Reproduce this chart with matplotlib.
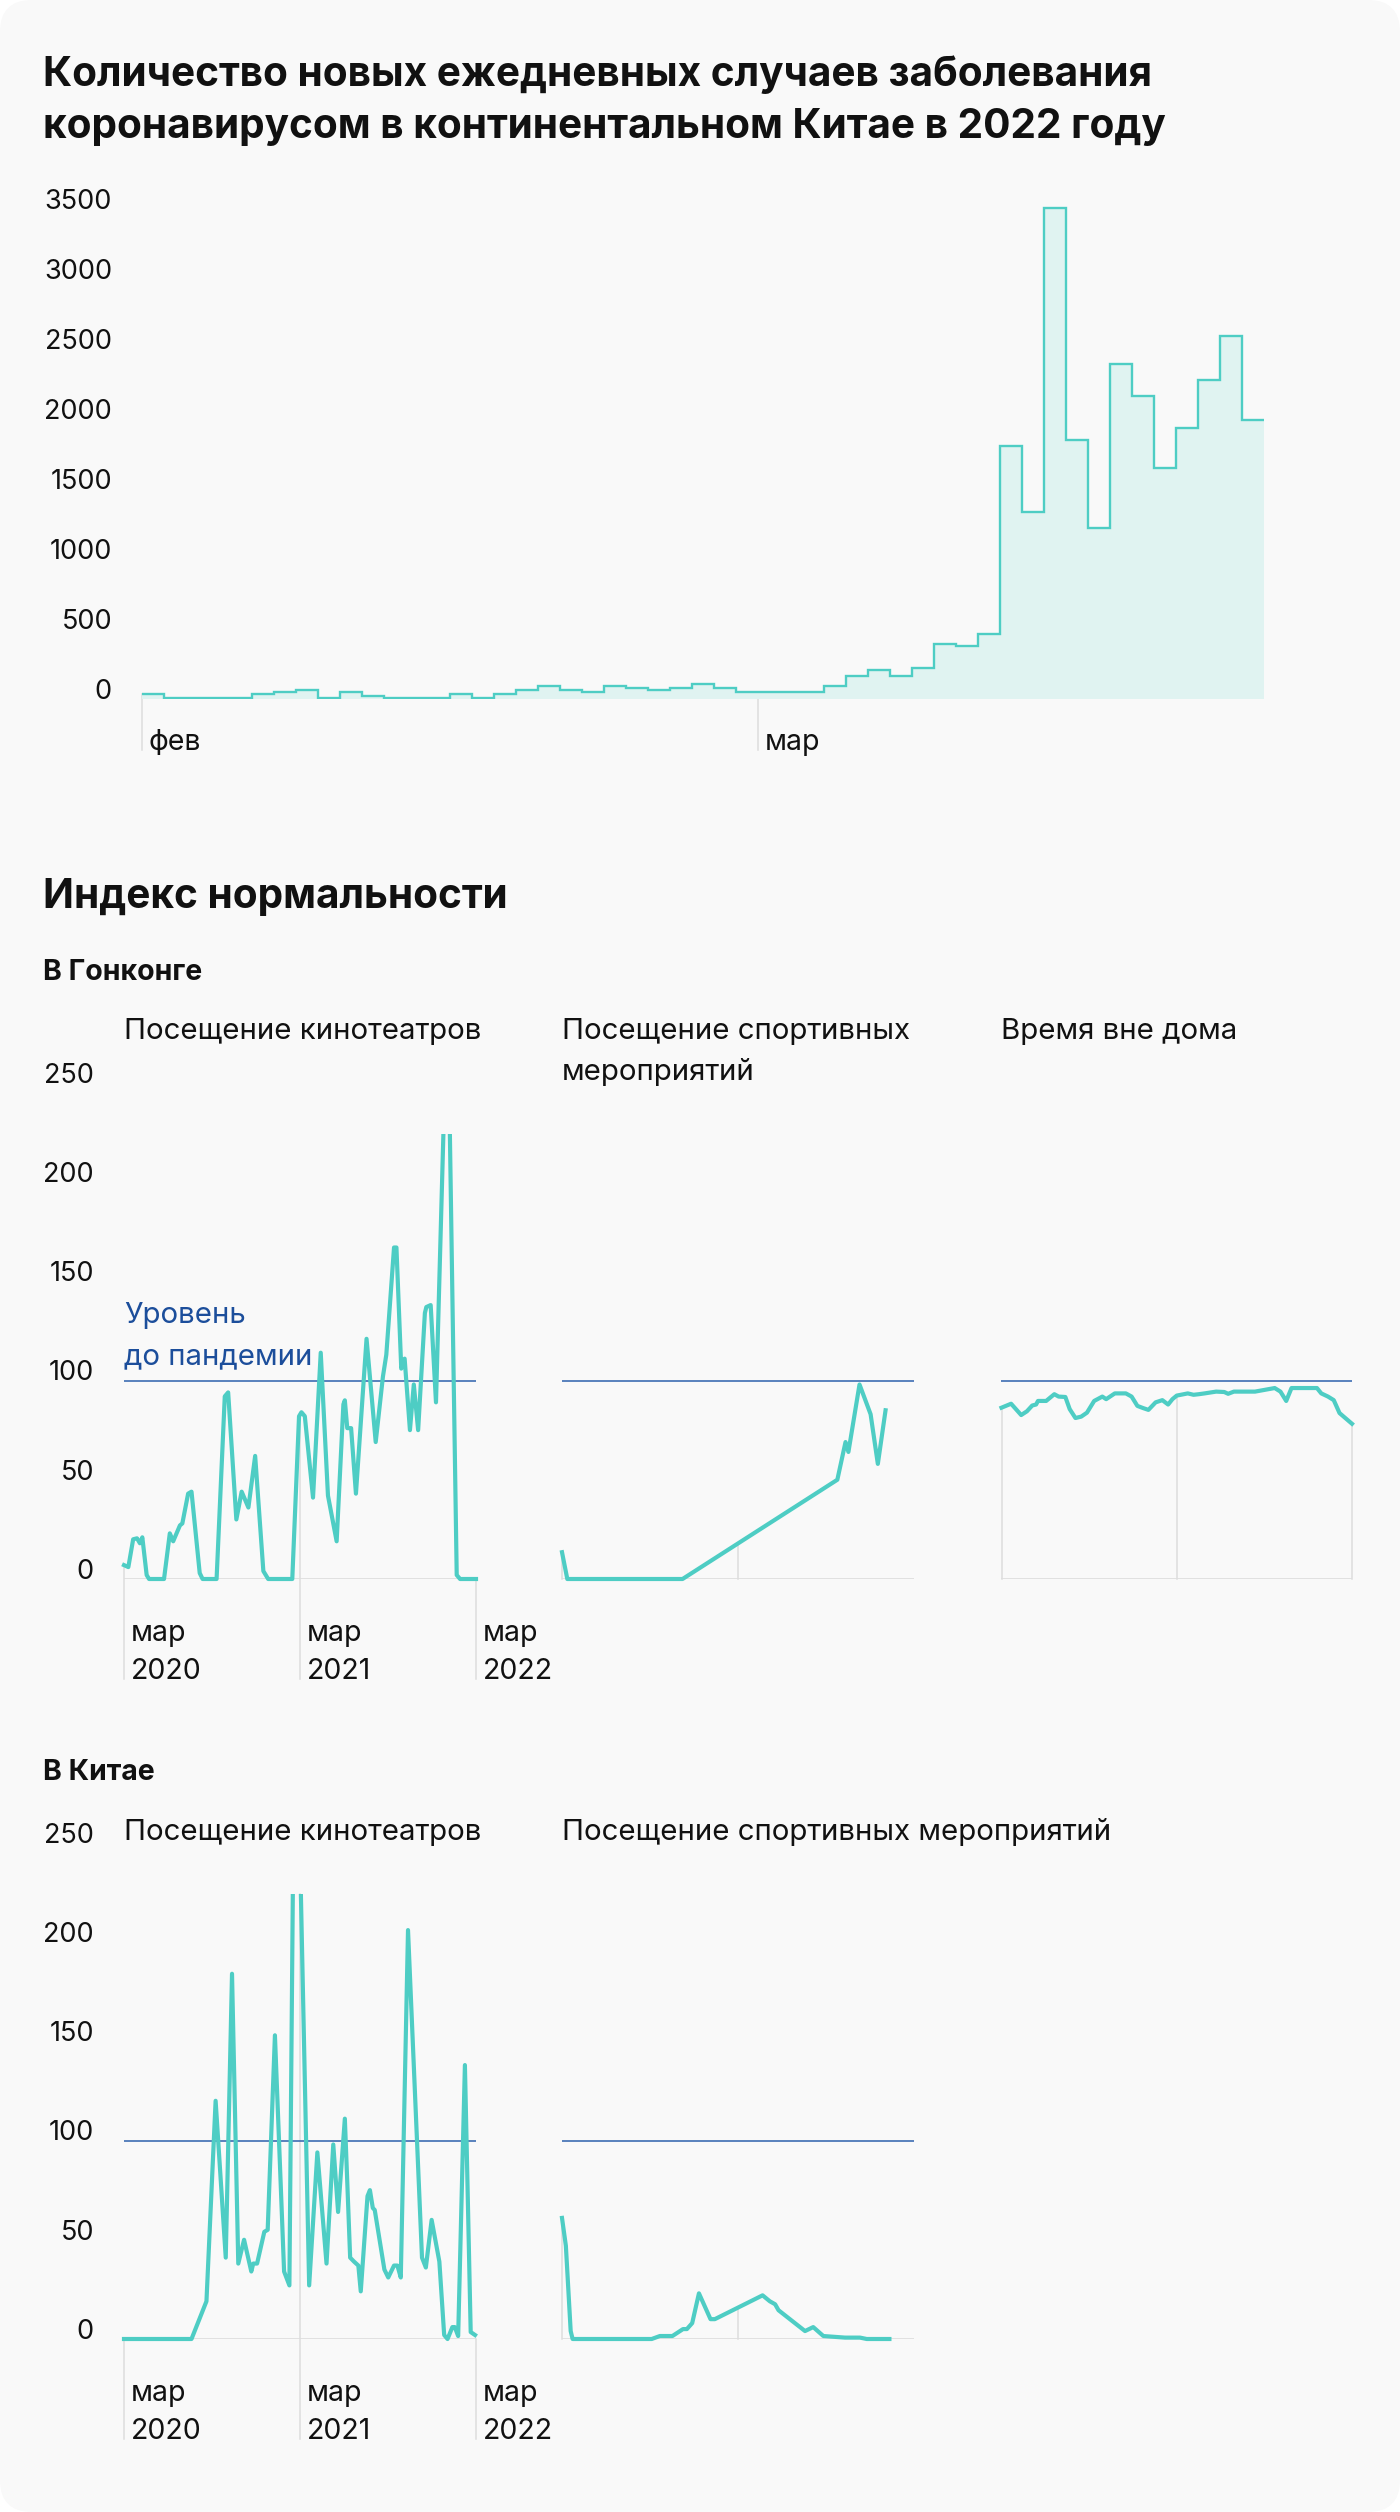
import numpy as np
import pandas as pd
import matplotlib
matplotlib.use("Agg")
import matplotlib.pyplot as plt
import matplotlib.dates as mdates
from matplotlib.patches import FancyBboxPatch, Rectangle

plt.rcParams['font.family'] = ['Inter', 'DejaVu Sans']

# ---- новые случаи в материковом Китае, по дням с 1 февраля 2022 ----
cases_start = "2022-02-01"
cases = [40, 12, 12, 12, 12, 40, 55, 69, 12, 55, 26, 12, 12, 12, 40, 12, 40, 69, 97, 69,
         55, 97, 83, 69, 83, 112, 83, 55,
         55, 55, 55, 97, 169, 212, 169, 224, 395, 382, 466, 1806, 1337, 3504, 1852, 1222,
         2392, 2165, 1653, 1935, 2277, 2591, 1992]
case_ticks = ["2022-02-01", "2022-03-01"]
case_tick_labels = ["фев", "мар"]
case_yticks = [0, 500, 1000, 1500, 2000, 2500, 3000, 3500]

# ---- индекс нормальности ----
hk_cinema_dates = ["2020-03-01", "2020-03-10", "2020-03-20", "2020-03-28", "2020-04-03", "2020-04-08",
                   "2020-04-17", "2020-04-22", "2020-05-23", "2020-06-04", "2020-06-11", "2020-06-25",
                   "2020-06-30", "2020-07-12", "2020-07-19", "2020-08-05", "2020-08-11", "2020-09-09",
                   "2020-09-26", "2020-10-03", "2020-10-20", "2020-10-31", "2020-11-14", "2020-11-28",
                   "2020-12-15", "2020-12-25", "2021-02-13", "2021-02-27", "2021-03-04", "2021-03-11",
                   "2021-03-28", "2021-04-13", "2021-04-28", "2021-05-16", "2021-05-30", "2021-06-02",
                   "2021-06-07", "2021-06-15", "2021-06-25", "2021-07-17", "2021-08-05", "2021-08-20",
                   "2021-08-27", "2021-09-12", "2021-09-17", "2021-09-27", "2021-10-04", "2021-10-15",
                   "2021-10-23", "2021-11-01", "2021-11-15", "2021-11-18", "2021-11-27", "2021-12-08",
                   "2022-01-01", "2022-01-20", "2022-01-27", "2022-03-01"]
hk_cinema = [7, 6, 20, 20.5, 18, 21, 2, 0, 0, 23, 19, 27, 28, 43, 44, 3, 0, 0, 92, 94, 30, 44, 36, 62,
             4, 0, 0, 82, 84, 82, 41, 114, 42, 19, 88, 90, 76, 76, 43, 121, 69, 102, 113, 167, 167,
             106, 111, 75, 98, 75, 134, 137, 138, 89, 300, 2, 0, 0]

hk_sport_dates = ["2020-03-01", "2020-03-12", "2020-11-06", "2021-09-23", "2021-10-10", "2021-10-16",
                  "2021-11-08", "2021-12-01", "2021-12-16", "2022-01-01"]
hk_sport = [13.5, 0, 0, 50, 69, 64, 98, 83, 58, 85]

hk_out_dates = ["2020-03-01", "2020-03-21", "2020-04-11", "2020-04-23", "2020-05-04", "2020-05-12",
                "2020-05-16", "2020-06-02", "2020-06-19", "2020-06-28", "2020-07-12", "2020-07-21",
                "2020-08-02", "2020-08-14", "2020-08-26", "2020-09-10", "2020-09-27", "2020-10-05",
                "2020-10-23", "2020-11-15", "2020-11-27", "2020-12-09", "2020-12-21", "2021-01-01",
                "2021-01-16", "2021-01-30", "2021-02-11", "2021-02-20", "2021-03-01", "2021-03-24",
                "2021-04-05", "2021-04-16", "2021-04-28", "2021-05-22", "2021-06-08", "2021-06-16",
                "2021-06-28", "2021-08-11", "2021-09-21", "2021-10-03", "2021-10-15", "2021-10-26",
                "2021-12-18", "2021-12-27", "2022-01-10", "2022-01-22", "2022-02-03", "2022-02-15",
                "2022-03-01"]
hk_out = [86.3, 88.3, 82.6, 84.5, 87.4, 87.9, 89.7, 89.7, 93.1, 91.9, 91.7, 85.6, 81.1, 81.8, 83.8,
          89.7, 91.9, 90.6, 93.5, 93.5, 91.9, 87.2, 86.1, 85.2, 89, 90.1, 87.9, 90.6, 92.4, 93.5,
          92.8, 93.1, 93.5, 94.4, 94.2, 93.3, 94.4, 94.4, 96.2, 94.4, 89.7, 96.2, 96.2, 93.5, 91.9,
          90.1, 83.6, 81.1, 78.2]

cn_cinema_dates = ["2020-03-01", "2020-07-19", "2020-08-19", "2020-09-07", "2020-09-28", "2020-10-11",
                   "2020-10-24", "2020-11-05", "2020-11-20", "2020-11-24", "2020-12-02", "2020-12-17",
                   "2020-12-24", "2021-01-08", "2021-01-27", "2021-02-07", "2021-02-19", "2021-03-20",
                   "2021-04-06", "2021-04-25", "2021-05-09", "2021-05-19", "2021-06-02", "2021-06-13",
                   "2021-06-21", "2021-06-30", "2021-07-05", "2021-07-19", "2021-07-24", "2021-07-30",
                   "2021-08-03", "2021-08-23", "2021-08-31", "2021-09-12", "2021-09-19", "2021-09-26",
                   "2021-10-11", "2021-11-09", "2021-11-17", "2021-11-29", "2021-12-15", "2021-12-25",
                   "2022-01-01", "2022-01-11", "2022-01-16", "2022-01-23", "2022-02-06", "2022-02-18",
                   "2022-02-27"]
cn_cinema = [0, 0, 19, 120, 41, 184, 38, 50, 34, 38, 38, 54, 55, 153, 34, 27, 360, 27, 94, 38,
             98, 64, 111, 41, 39, 37, 24, 72, 75, 66, 65, 35, 31, 37, 37, 31, 206, 41, 36, 60,
             39, 2, 0, 6, 6, 1.5, 138, 3.5, 2]

cn_sport_dates = ["2020-03-01", "2020-03-09", "2020-03-19", "2020-03-23", "2020-09-03", "2020-09-20",
                  "2020-10-16", "2020-11-07", "2020-11-15", "2020-11-26", "2020-12-10", "2021-01-03",
                  "2021-01-12", "2021-04-21", "2021-05-06", "2021-05-17", "2021-05-24", "2021-07-18",
                  "2021-08-04", "2021-08-25", "2021-10-09", "2021-11-09", "2021-11-23", "2022-01-09"]
cn_sport = [61, 47, 4, 0, 0, 1.5, 1.5, 5, 5, 8, 23, 10, 10, 22, 19, 17.5, 14.5, 4, 6, 1.5,
            0.7, 0.7, 0, 0]

year_ticks = ["2020-03-01", "2021-03-01", "2022-03-01"]
year_tick_labels = [("мар", "2020"), ("мар", "2021"), ("мар", "2022")]
index_yticks = [0, 50, 100, 150, 200, 250]
pre_pandemic = 100
clip_top = 224

TEAL = "#4ECDC4"
FILL = "#E0F3F1"
BLUE_LINE = "#3D6DB3"
BLUE_TEXT = "#1C4E9B"
GRID = "#DDDDDD"
CARD = "#F9F9F9"
INK = "#111111"

TITLE_SIZE = 29.2
HEAD_SIZE = 20.5
TEXT_SIZE = 21.2
YTICK_SIZE = 19.5
XTICK_SIZE = 20.5

W, H = 1400, 2512
PT = 0.72  # points per pixel at dpi 100

fig = plt.figure(figsize=(W / 100, H / 100), dpi=100, facecolor="white")

bg = fig.add_axes([0, 0, 1, 1])
bg.set_xlim(0, W)
bg.set_ylim(H, 0)
bg.axis("off")
bg.add_patch(FancyBboxPatch((0, 0), W, H, boxstyle="round,pad=0,rounding_size=32",
                            fc=CARD, ec="none"))


def px_axes(l, t, r, b):
    ax = fig.add_axes([l / W, 1 - b / H, (r - l) / W, (b - t) / H])
    ax.patch.set_alpha(0)
    for s in ax.spines.values():
        s.set_visible(False)
    ax.tick_params(length=0)
    return ax


def put(x, y, s, size=TEXT_SIZE, weight="normal", color=INK):
    fig.text(x / W, 1 - y / H, s, fontsize=size, fontweight=weight, color=color,
             va="baseline", ha="left")


# ---- заголовки ----
put(43, 85.7, "Количество новых ежедневных случаев заболевания", TITLE_SIZE, "bold")
put(43, 137.7, "коронавирусом в континентальном Китае в 2022 году", TITLE_SIZE, "bold")
put(43, 908.5, "Индекс нормальности", TITLE_SIZE, "bold")
put(43, 979.5, "В Гонконге", HEAD_SIZE, "bold")
put(43, 1780, "В Китае", HEAD_SIZE, "bold")

# ---- случаи ----
edges = mdates.date2num(pd.date_range(cases_start, periods=len(cases) + 1, freq="D"))
top_l, top_t, top_r, top_b = 141.5, 204.3, 1263.5, 699.3
ymax_cases = 3530
ax = px_axes(top_l, top_t, top_r, top_b)
ax.stairs(cases, edges, fill=True, color=FILL, lw=0, baseline=0)
ax.stairs(cases, edges, baseline=None, color=TEAL, lw=1.7)
ax.set_xlim(edges[0], edges[-1])
ax.set_ylim(0, ymax_cases)
ax.set_xticks([])
ax.set_yticks(case_yticks)
ax.set_yticklabels([str(v) for v in case_yticks], fontsize=YTICK_SIZE, color=INK)
for lbl in ax.get_yticklabels():
    lbl.set_verticalalignment("baseline")
ax.tick_params(axis="y", pad=29.5 * PT)
unit_px = (top_b - top_t) / ymax_cases
for d, lab in zip(case_ticks, case_tick_labels):
    xd = mdates.date2num(pd.Timestamp(d))
    i = np.searchsorted(edges, xd, side="right") - 1
    ax.plot([xd, xd], [cases[i], -51 / unit_px], color=GRID, lw=1.1, clip_on=False, zorder=0.5)
    ax.annotate(lab, xy=(xd, 0), xycoords=("data", "axes fraction"),
                xytext=(7 * PT, -51 * PT), textcoords="offset points",
                ha="left", va="baseline", fontsize=XTICK_SIZE, color=INK)


# ---- индекс ----
def index_panel(l, t, r, b, dates, values, ylabels=False, xlabels=False):
    ax = px_axes(l, t, r, b)
    x = mdates.date2num(pd.to_datetime(dates))
    xt = mdates.date2num(pd.to_datetime(year_ticks))
    ax.set_xlim(xt[0], xt[-1])
    ax.set_ylim(0, 250)
    ax.axhline(0, color=GRID, lw=1.2, zorder=1)
    ax.axhline(pre_pandemic, color=BLUE_LINE, lw=1.2, zorder=2)
    line, = ax.plot(x, values, color=TEAL, lw=3.0, zorder=3)
    line.set_clip_path(Rectangle((-0.05, -0.05), 1.1, 0.05 + clip_top / 250,
                                 transform=ax.transAxes))
    px = (b - t) / 250
    below = 100 / px if xlabels else 0
    for xd, (m, yr) in zip(xt, year_tick_labels):
        v = np.interp(xd, x, values, left=0, right=0)
        ax.plot([xd, xd], [min(v, clip_top), -below], color=GRID, lw=1.1,
                clip_on=False, zorder=0.5)
        if xlabels:
            for s, dy in ((m, 62), (yr, 100)):
                ax.annotate(s, xy=(xd, 0), xycoords=("data", "axes fraction"),
                            xytext=(7 * PT, -dy * PT), textcoords="offset points",
                            ha="left", va="baseline", fontsize=XTICK_SIZE, color=INK)
    ax.set_xticks([])
    if ylabels:
        ax.set_yticks(index_yticks)
        ax.set_yticklabels([str(v) for v in index_yticks], fontsize=YTICK_SIZE, color=INK)
        for lbl in ax.get_yticklabels():
            lbl.set_verticalalignment("baseline")
        ax.tick_params(axis="y", pad=30 * PT)
    else:
        ax.set_yticks([])
    return ax


cols = [(124, 476), (562, 914), (1001.5, 1352)]
hk_b = 1579
cn_b = 2339
span = 250 * 1.985

put(cols[0][0], 1039, "Посещение кинотеатров")
put(cols[1][0], 1039, "Посещение спортивных")
put(cols[1][0], 1080, "мероприятий")
put(cols[2][0], 1039, "Время вне дома")
index_panel(cols[0][0], hk_b - span, cols[0][1], hk_b, hk_cinema_dates, hk_cinema, True, True)
index_panel(cols[1][0], hk_b - span, cols[1][1], hk_b, hk_sport_dates, hk_sport)
index_panel(cols[2][0], hk_b - span, cols[2][1], hk_b, hk_out_dates, hk_out)
put(124, 1323, "Уровень", color=BLUE_TEXT)
put(124, 1364, "до пандемии", color=BLUE_TEXT)

put(cols[0][0], 1840, "Посещение кинотеатров")
put(cols[1][0], 1840, "Посещение спортивных мероприятий")
index_panel(cols[0][0], cn_b - span, cols[0][1], cn_b, cn_cinema_dates, cn_cinema, True, True)
index_panel(cols[1][0], cn_b - span, cols[1][1], cn_b, cn_sport_dates, cn_sport)

fig.savefig("out.png", dpi=100, facecolor=fig.get_facecolor())
